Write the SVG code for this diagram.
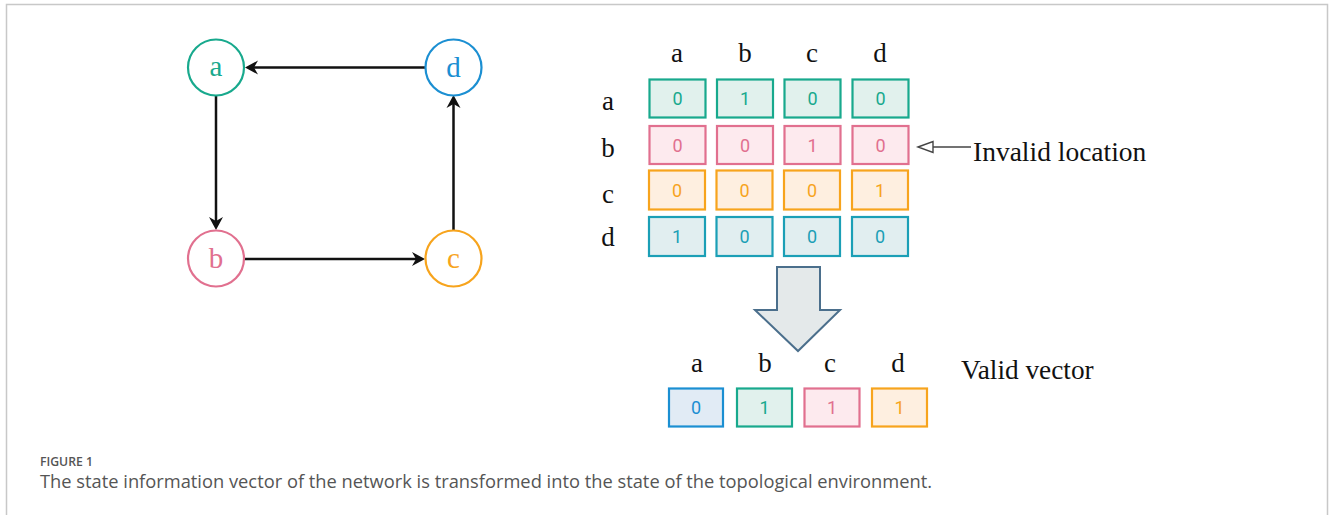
<svg xmlns="http://www.w3.org/2000/svg" width="1330" height="515" viewBox="0 0 1330 515">
<style>
.serif{font-family:"Liberation Serif","Times New Roman",serif;}
.lbl{font-family:"Liberation Serif",serif;font-size:27px;fill:#111;text-anchor:middle;}
.node{fill:#fff;stroke-width:2.2;}
.ntext{font-family:"Liberation Serif",serif;font-size:29px;text-anchor:middle;}
.cell{stroke-width:2.2;}
.num{font-family:Roboto,"Liberation Sans",sans-serif;font-size:18px;text-anchor:middle;}
.t{stroke:#18a98d;fill:#e1f1ed;} .tt{fill:#18a98d;}
.p{stroke:#e1708f;fill:#fdeaee;} .pt{fill:#e1708f;}
.o{stroke:#f7a41d;fill:#feefe0;} .ot{fill:#f7a41d;}
.c{stroke:#1b9fb6;fill:#e1eef0;} .ct{fill:#1b9fb6;}
.b{stroke:#1b8fd2;fill:#e1ebf5;} .bt{fill:#1b8fd2;}
.ln{stroke:#111;stroke-width:2.5;fill:none;}
.hd{fill:#111;}
</style>
<rect width="1330" height="515" fill="#fff"/>
<g id="frame" fill="none" stroke="#c8c8c8" stroke-width="1.5">
<path d="M6.5,515 V4.5 H1327.5 V515"/>
</g>

<g id="connectors">
<line class="ln" x1="425" y1="67.5" x2="250" y2="67.5"/>
<path class="hd" d="M245,67.5 L258,60.5 L254,67.5 L258,74.5 Z"/>
<line class="ln" x1="216" y1="95.5" x2="216" y2="225"/>
<path class="hd" d="M216,230 L209,217 L216,221 L223,217 Z"/>
<line class="ln" x1="244" y1="259" x2="420" y2="259"/>
<path class="hd" d="M425,259 L412,252 L416,259 L412,266 Z"/>
<line class="ln" x1="453.5" y1="230.5" x2="453.5" y2="100"/>
<path class="hd" d="M453.5,95 L446.5,108 L453.5,104 L460.5,108 Z"/>
</g>

<g id="node-a"><circle class="node" cx="216" cy="67.5" r="28" stroke="#18a98d"/><text class="ntext" x="216" y="76" fill="#18a98d">a</text></g>
<g id="node-d"><circle class="node" cx="453.5" cy="67.5" r="28" stroke="#1b8fd2"/><text class="ntext" x="453.5" y="77" fill="#1b8fd2">d</text></g>
<g id="node-b"><circle class="node" cx="216" cy="258.5" r="28" stroke="#e1708f"/><text class="ntext" x="216" y="268" fill="#e1708f">b</text></g>
<g id="node-c"><circle class="node" cx="453.5" cy="258.5" r="28" stroke="#f7a41d"/><text class="ntext" x="453.5" y="267.5" fill="#f7a41d">c</text></g>

<g id="matrix-headers">
<text class="lbl" x="677" y="62">a</text>
<text class="lbl" x="745" y="62">b</text>
<text class="lbl" x="812" y="62">c</text>
<text class="lbl" x="880" y="62">d</text>
<text class="lbl" x="608" y="110">a</text>
<text class="lbl" x="608" y="157">b</text>
<text class="lbl" x="608" y="203">c</text>
<text class="lbl" x="608" y="246">d</text>
</g>

<g id="matrix">
<g id="row-a">
<rect class="cell t" x="649.5" y="79.5" width="56" height="38"/><text class="num tt" x="677.5" y="105">0</text>
<rect class="cell t" x="717" y="79.5" width="56" height="38"/><text class="num tt" x="745" y="105">1</text>
<rect class="cell t" x="784.5" y="79.5" width="56" height="38"/><text class="num tt" x="812.5" y="105">0</text>
<rect class="cell t" x="852.5" y="79.5" width="56" height="38"/><text class="num tt" x="880.5" y="105">0</text>
</g>
<g id="row-b">
<rect class="cell p" x="649.5" y="126" width="56" height="38"/><text class="num pt" x="677.5" y="151.5">0</text>
<rect class="cell p" x="717" y="126" width="56" height="38"/><text class="num pt" x="745" y="151.5">0</text>
<rect class="cell p" x="784.5" y="126" width="56" height="38"/><text class="num pt" x="812.5" y="151.5">1</text>
<rect class="cell p" x="852.5" y="126" width="56" height="38"/><text class="num pt" x="880.5" y="151.5">0</text>
</g>
<g id="row-c">
<rect class="cell o" x="649" y="170.5" width="56" height="39"/><text class="num ot" x="677" y="196.5">0</text>
<rect class="cell o" x="716.5" y="170.5" width="56" height="39"/><text class="num ot" x="744.5" y="196.5">0</text>
<rect class="cell o" x="784" y="170.5" width="56" height="39"/><text class="num ot" x="812" y="196.5">0</text>
<rect class="cell o" x="852" y="170.5" width="56" height="39"/><text class="num ot" x="880" y="196.5">1</text>
</g>
<g id="row-d">
<rect class="cell c" x="649" y="217" width="56" height="39"/><text class="num ct" x="677" y="243">1</text>
<rect class="cell c" x="716.5" y="217" width="56" height="39"/><text class="num ct" x="744.5" y="243">0</text>
<rect class="cell c" x="784" y="217" width="56" height="39"/><text class="num ct" x="812" y="243">0</text>
<rect class="cell c" x="852" y="217" width="56" height="39"/><text class="num ct" x="880" y="243">0</text>
</g>
</g>

<g id="invalid-label">
<line x1="933" y1="147" x2="971" y2="147" stroke="#444" stroke-width="1.4"/>
<path d="M918,147 L933,141.5 L933,152.5 Z" fill="#fff" stroke="#444" stroke-width="1.4"/>
<text class="serif" x="973" y="161" font-size="27.5" fill="#111">Invalid location</text>
</g>

<g id="big-arrow">
<path d="M777,267 H820 V310 H840 L798,351 L755,310 H777 Z" fill="#e4e9ea" stroke="#4b6f8c" stroke-width="2"/>
</g>

<g id="vector-headers">
<text class="lbl" x="697" y="372">a</text>
<text class="lbl" x="765" y="372">b</text>
<text class="lbl" x="830" y="372">c</text>
<text class="lbl" x="898" y="372">d</text>
<text class="serif" x="961" y="379" font-size="27.3" fill="#111">Valid vector</text>
</g>

<g id="vector">
<rect class="cell b" x="669" y="388.5" width="54" height="38"/><text class="num bt" x="696" y="414">0</text>
<rect class="cell t" x="737" y="388.5" width="55" height="38"/><text class="num tt" x="764.5" y="414">1</text>
<rect class="cell p" x="804.5" y="388.5" width="55" height="38"/><text class="num pt" x="832" y="414">1</text>
<rect class="cell o" x="872" y="388.5" width="55" height="38"/><text class="num ot" x="899.5" y="414">1</text>
</g>

<g id="caption" font-family="'Open Sans','Noto Sans',sans-serif">
<text x="40" y="466" font-size="13" fill="#555" font-weight="600" textLength="53" lengthAdjust="spacingAndGlyphs">FIGURE 1</text>
<text x="40" y="488" font-size="17.5" fill="#555" textLength="892" lengthAdjust="spacingAndGlyphs">The state information vector of the network is transformed into the state of the topological environment.</text>
</g>
</svg>
